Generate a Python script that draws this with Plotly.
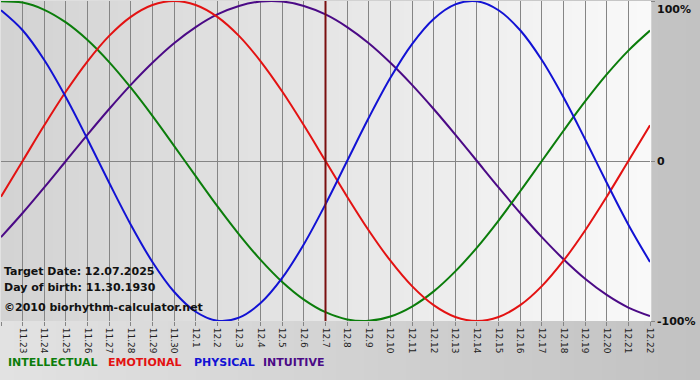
import plotly.graph_objects as go

# ---- data ----
dates = ["11.22", "11.23", "11.24", "11.25", "11.26", "11.27", "11.28", "11.29", "11.30",
         "12.1", "12.2", "12.3", "12.4", "12.5", "12.6", "12.7", "12.8", "12.9", "12.10",
         "12.11", "12.12", "12.13", "12.14", "12.15", "12.16", "12.17", "12.18", "12.19",
         "12.20", "12.21", "12.22"]
physical = [0.942, 0.817, 0.631, 0.398, 0.136, -0.136, -0.398, -0.631, -0.817, -0.942,
            -0.998, -0.979, -0.888, -0.731, -0.520, -0.270, 0.000, 0.270, 0.520, 0.731,
            0.888, 0.979, 0.998, 0.942, 0.817, 0.631, 0.398, 0.136, -0.136, -0.398, -0.631]
emotional = [-0.223, 0.000, 0.223, 0.434, 0.623, 0.782, 0.901, 0.975, 1.000, 0.975, 0.901,
             0.782, 0.623, 0.434, 0.223, 0.000, -0.223, -0.434, -0.623, -0.782, -0.901,
             -0.975, -1.000, -0.975, -0.901, -0.782, -0.623, -0.434, -0.223, 0.000, 0.223]
intellectual = [0.999, 0.990, 0.945, 0.866, 0.756, 0.618, 0.458, 0.282, 0.095, -0.095,
                -0.282, -0.458, -0.618, -0.756, -0.866, -0.945, -0.990, -0.999, -0.972,
                -0.910, -0.815, -0.690, -0.541, -0.372, -0.189, 0.000, 0.189, 0.372,
                0.541, 0.690, 0.815]
intuitive = [-0.476, -0.325, -0.165, 0.000, 0.165, 0.325, 0.476, 0.614, 0.736, 0.837,
             0.916, 0.969, 0.997, 0.997, 0.969, 0.916, 0.837, 0.736, 0.614, 0.476, 0.325,
             0.165, 0.000, -0.165, -0.325, -0.476, -0.614, -0.736, -0.837, -0.916, -0.969]
target_date = "12.7"
y_ticks = [-1, 0, 1]
y_labels = ["-100%", "0", "100%"]
series_names = ["INTELLECTUAL", "EMOTIONAL", "PHYSICAL", "INTUITIVE"]
info_lines = ["Target Date: 12.07.2025", "Day of birth: 11.30.1930", "©2010 biorhythm-calculator.net"]

# ---- styles ----
W, H = 700, 380
ML, MR, MT, MB = 1, 50, 1, 59
PW, PH = W - ML - MR, H - MT - MB
colors = {"INTELLECTUAL": "#0b7d0b", "EMOTIONAL": "#e31212",
          "PHYSICAL": "#1212d4", "INTUITIVE": "#4b0a86"}
FONT = "DejaVu Sans"

def px2paper_x(px):
    return (px - ML) / PW

def px2paper_y(py):
    return (MT + PH - py) / PH

def lerp_col(c0, c1, t):
    v = [round(a + (b - a) * t) for a, b in zip(c0, c1)]
    return "rgb(%d,%d,%d)" % tuple(v)

x = list(range(len(dates)))
fig = go.Figure()
series = {"INTELLECTUAL": intellectual, "EMOTIONAL": emotional,
          "PHYSICAL": physical, "INTUITIVE": intuitive}
for name in ["INTUITIVE", "INTELLECTUAL", "EMOTIONAL", "PHYSICAL"]:
    fig.add_trace(go.Scatter(x=x, y=series[name], mode="lines", name=name,
                             line=dict(color=colors[name], width=2, shape="spline", smoothing=1.0),
                             showlegend=False, hoverinfo="skip"))

shapes = []
N = 50
# paper gradient
for i in range(N):
    t = i / (N - 1)
    shapes.append(dict(type="rect", xref="paper", yref="paper", layer="below",
                       x0=px2paper_x(i * W / N), x1=px2paper_x((i + 1) * W / N + 1),
                       y0=px2paper_y(H), y1=px2paper_y(0),
                       fillcolor=lerp_col((226, 226, 226), (194, 194, 194), t), line=dict(width=0)))
# plot area gradient
for i in range(N):
    t = i / (N - 1)
    shapes.append(dict(type="rect", xref="paper", yref="paper", layer="below",
                       x0=i / N, x1=(i + 1) / N + 0.002, y0=0, y1=1,
                       fillcolor=lerp_col((211, 211, 211), (249, 249, 249), t), line=dict(width=0)))
# target date line
tx = dates.index(target_date)
shapes.append(dict(type="line", xref="x", yref="paper", x0=tx, x1=tx, y0=0, y1=1,
                   line=dict(color="#7a1010", width=2), layer="above"))

annotations = []
for lbl, yv in zip(y_labels, y_ticks):
    yanchor = {1: "top", 0: "middle", -1: "middle"}[yv]
    annotations.append(dict(x=1, y=(yv + 1) / 2, xref="paper", yref="paper", text="<b>%s</b>" % lbl,
                            xanchor="left", yanchor=yanchor, xshift=5, showarrow=False,
                            font=dict(family=FONT, size=11, color="#111")))
info_y = [271, 287, 307]
for txt, py in zip(info_lines, info_y):
    annotations.append(dict(x=px2paper_x(2), y=px2paper_y(py), xref="paper", yref="paper",
                            text="<b>%s</b>" % txt, xanchor="left", yanchor="middle",
                            showarrow=False, font=dict(family=FONT, size=11, color="#111")))
legend_x = [6, 106, 192, 261]
for name, lx in zip(series_names, legend_x):
    annotations.append(dict(x=px2paper_x(lx), y=px2paper_y(362), xref="paper", yref="paper",
                            text="<b>%s</b>" % name, xanchor="left", yanchor="middle",
                            showarrow=False, font=dict(family=FONT, size=11, color=colors[name])))

fig.update_layout(
    width=W, height=H, margin=dict(l=ML, r=MR, t=MT, b=MB),
    paper_bgcolor="#c8c8c8", plot_bgcolor="rgba(0,0,0,0)",
    shapes=shapes, annotations=annotations,
    xaxis=dict(range=[0, len(dates) - 1], tickmode="array", tickvals=x, ticktext=dates,
               tickangle=90, showgrid=True, gridcolor="#858585", gridwidth=1,
               ticks="outside", ticklen=4, tickcolor="#858585", zeroline=False,
               showline=False, tickfont=dict(family=FONT, size=9, color="#222"),
               fixedrange=True),
    yaxis=dict(range=[-1, 1], tickmode="array", tickvals=y_ticks, ticktext=["", "", ""],
               showgrid=True, gridcolor="#858585", gridwidth=1, zeroline=False,
               side="right", ticks="outside", ticklen=4, tickcolor="#858585",
               showline=False, fixedrange=True),
    showlegend=False,
)

fig.write_html("out.html")
